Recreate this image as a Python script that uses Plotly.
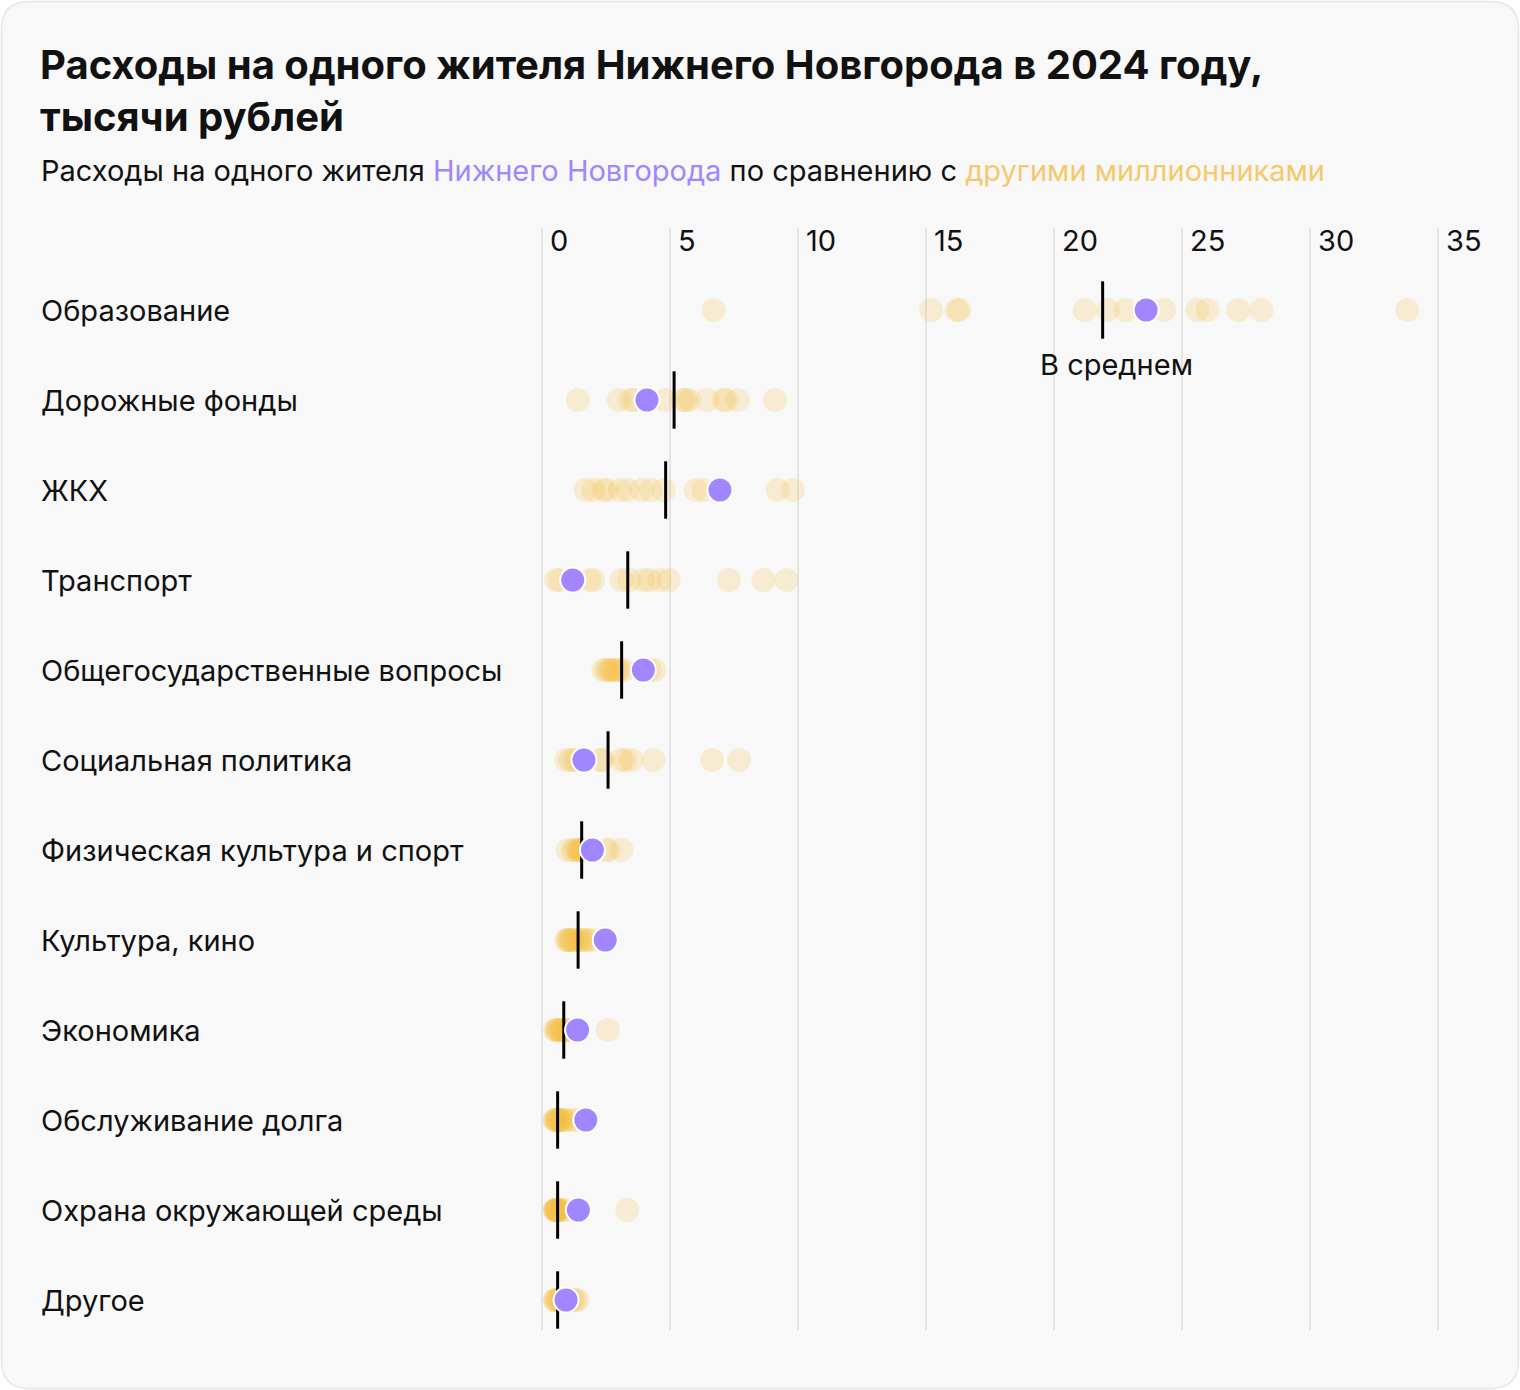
import plotly.graph_objects as go

# ---------------- data ----------------
categories = ["Образование", "Дорожные фонды", "ЖКХ", "Транспорт",
              "Общегосударственные вопросы", "Социальная политика",
              "Физическая культура и спорт", "Культура, кино", "Экономика",
              "Обслуживание долга", "Охрана окружающей среды", "Другое"]

nn_values = [23.6, 4.1, 6.95, 1.2, 3.96, 1.64, 1.97, 2.47, 1.39, 1.71, 1.42, 0.94]
avg_values = [21.9, 5.16, 4.83, 3.35, 3.11, 2.58, 1.55, 1.41, 0.85, 0.61, 0.61, 0.61]

other_education = [6.7, 15.2, 16.2, 16.3, 21.2, 22.1, 22.8, 24.3, 25.6, 26.0, 27.2, 28.1, 33.8]
other_roads = [1.4, 3.0, 3.45, 3.6, 4.8, 5.5, 5.6, 5.75, 6.45, 7.1, 7.2, 7.65, 9.1]
other_housing = [1.7, 2.0, 2.4, 2.55, 3.05, 3.35, 3.9, 4.25, 4.75, 6.0, 6.3, 9.2, 9.8]
other_transport = [0.55, 0.7, 1.85, 2.0, 3.1, 3.4, 3.95, 4.2, 4.6, 4.95, 7.3, 8.65, 9.55]
other_general = [2.4, 2.5, 2.6, 2.7, 2.75, 2.85, 2.95, 3.05, 3.2, 3.9, 4.05, 4.2, 4.4]
other_social = [0.95, 1.1, 1.25, 1.4, 1.6, 2.3, 2.35, 3.1, 3.25, 3.5, 4.35, 6.65, 7.7]
other_sport = [1.0, 1.2, 1.3, 1.4, 1.45, 1.5, 1.55, 1.6, 1.7, 2.0, 2.5, 2.6, 3.1]
other_culture = [0.95, 1.0, 1.05, 1.1, 1.15, 1.2, 1.3, 1.4, 1.5, 1.6, 1.7, 1.8, 1.95]
other_economy = [0.5, 0.55, 0.6, 0.65, 0.7, 0.75, 0.8, 0.85, 0.9, 1.0, 1.1, 1.3, 2.57]
other_debt = [0.5, 0.5, 0.55, 0.6, 0.6, 0.65, 0.7, 0.75, 0.8, 0.9, 1.0, 1.2, 1.4]
other_environment = [0.5, 0.5, 0.52, 0.55, 0.55, 0.6, 0.6, 0.62, 0.65, 0.7, 0.8, 0.9, 3.33]
other_other = [0.5, 0.52, 0.55, 0.6, 0.65, 0.7, 0.75, 0.8, 1.0, 1.1, 1.2, 1.3, 1.4]

others = [other_education, other_roads, other_housing, other_transport, other_general,
          other_social, other_sport, other_culture, other_economy, other_debt,
          other_environment, other_other]

tick_values = [0, 5, 10, 15, 20, 25, 30, 35]

title_text = "Расходы на одного жителя Нижнего Новгорода в 2024 году,<br>тысячи рублей"
avg_label = "В среднем"

# ---------------- geometry / style ----------------
W, H = 1520, 1390
X0_PX, PX_PER_UNIT = 542, 25.6
ROW0_PX, ROW_STEP = 310, 90

def xv(px):
    return (px - X0_PX) / PX_PER_UNIT

def yv(px):
    return (px - ROW0_PX) / ROW_STEP

def py(px):
    return 1 - px / H

FONT = "Inter, Roboto, sans-serif"
PURPLE = "#A086FF"
ORANGE = "#F4BC3C"
GRID = "#DEDEDE"
TXT = 29

fig = go.Figure()

rows = list(range(len(categories)))

# other cities
ox, oy = [], []
for i, vals in enumerate(others):
    ox += vals
    oy += [i] * len(vals)
fig.add_trace(go.Scatter(
    x=ox, y=oy, mode="markers",
    marker=dict(size=24, color=ORANGE, opacity=0.2, line=dict(width=0)),
    hoverinfo="skip", showlegend=False))

# averages
fig.add_trace(go.Scatter(
    x=avg_values, y=rows, mode="markers",
    marker=dict(symbol="line-ns", size=41, color="black",
                line=dict(width=3, color="black")),
    hoverinfo="skip", showlegend=False))

# Nizhny Novgorod
fig.add_trace(go.Scatter(
    x=nn_values, y=rows, mode="markers",
    marker=dict(size=25, color=PURPLE, line=dict(width=2, color="white")),
    hoverinfo="skip", showlegend=False))

shapes = []
# card
r = 28
x0, x1, y0, y1 = 1.5, W - 1.5, 1.5, H - 1.5
def P(x, y):
    return f"{x / W:.6f},{1 - y / H:.6f}"
path = (f"M {P(x0 + r, y0)} L {P(x1 - r, y0)} Q {P(x1, y0)} {P(x1, y0 + r)} "
        f"L {P(x1, y1 - r)} Q {P(x1, y1)} {P(x1 - r, y1)} "
        f"L {P(x0 + r, y1)} Q {P(x0, y1)} {P(x0, y1 - r)} "
        f"L {P(x0, y0 + r)} Q {P(x0, y0)} {P(x0 + r, y0)} Z")
shapes.append(dict(type="path", path=path, xref="paper", yref="paper",
                   fillcolor="#F8F8F8", line=dict(color="#E6E6E6", width=1.5),
                   layer="below"))
for t in tick_values:
    shapes.append(dict(type="line", xref="x", yref="paper", x0=t, x1=t,
                       y0=py(228), y1=py(1330),
                       line=dict(color=GRID, width=1.5), layer="below"))

annotations = []
annotations.append(dict(text=f"<b>{title_text}</b>", xref="paper", yref="paper",
                        x=38 / W, y=py(38), xanchor="left", yanchor="top",
                        align="left", showarrow=False,
                        font=dict(family=FONT, size=40, color="#111111")))
annotations.append(dict(
    text=("Расходы на одного жителя "
          f"<span style='color:{PURPLE}'>Нижнего Новгорода</span> "
          "по сравнению с "
          "<span style='color:#F5C96B'>другими миллионниками</span>"),
    xref="paper", yref="paper", x=39 / W, y=py(170), xanchor="left",
    yanchor="middle", align="left", showarrow=False,
    font=dict(family=FONT, size=TXT, color="#111111")))
for t in tick_values:
    annotations.append(dict(text=str(t), xref="x", yref="paper", x=t, xshift=6,
                            y=py(240), xanchor="left", yanchor="middle",
                            showarrow=False,
                            font=dict(family=FONT, size=TXT, color="#111111")))
for i, c in enumerate(categories):
    annotations.append(dict(text=c, xref="paper", yref="y", x=39 / W, y=i,
                            xanchor="left", yanchor="middle", showarrow=False,
                            font=dict(family=FONT, size=TXT, color="#111111")))
annotations.append(dict(text=avg_label, xref="x", yref="y", x=avg_values[0], y=0,
                        xshift=14, yshift=-54, xanchor="center", yanchor="middle",
                        showarrow=False,
                        font=dict(family=FONT, size=TXT, color="#111111")))

fig.update_layout(
    width=W, height=H,
    margin=dict(l=0, r=0, t=0, b=0),
    paper_bgcolor="white", plot_bgcolor="rgba(0,0,0,0)",
    xaxis=dict(range=[xv(0), xv(W)], showgrid=False, zeroline=False,
               showticklabels=False, fixedrange=True),
    yaxis=dict(range=[yv(H), yv(0)], showgrid=False, zeroline=False,
               showticklabels=False, fixedrange=True),
    shapes=shapes, annotations=annotations,
    font=dict(family=FONT),
)

fig.write_html("out.html", config={"displayModeBar": False},
               post_script="document.body.style.margin='0';document.body.style.overflow='hidden';")
